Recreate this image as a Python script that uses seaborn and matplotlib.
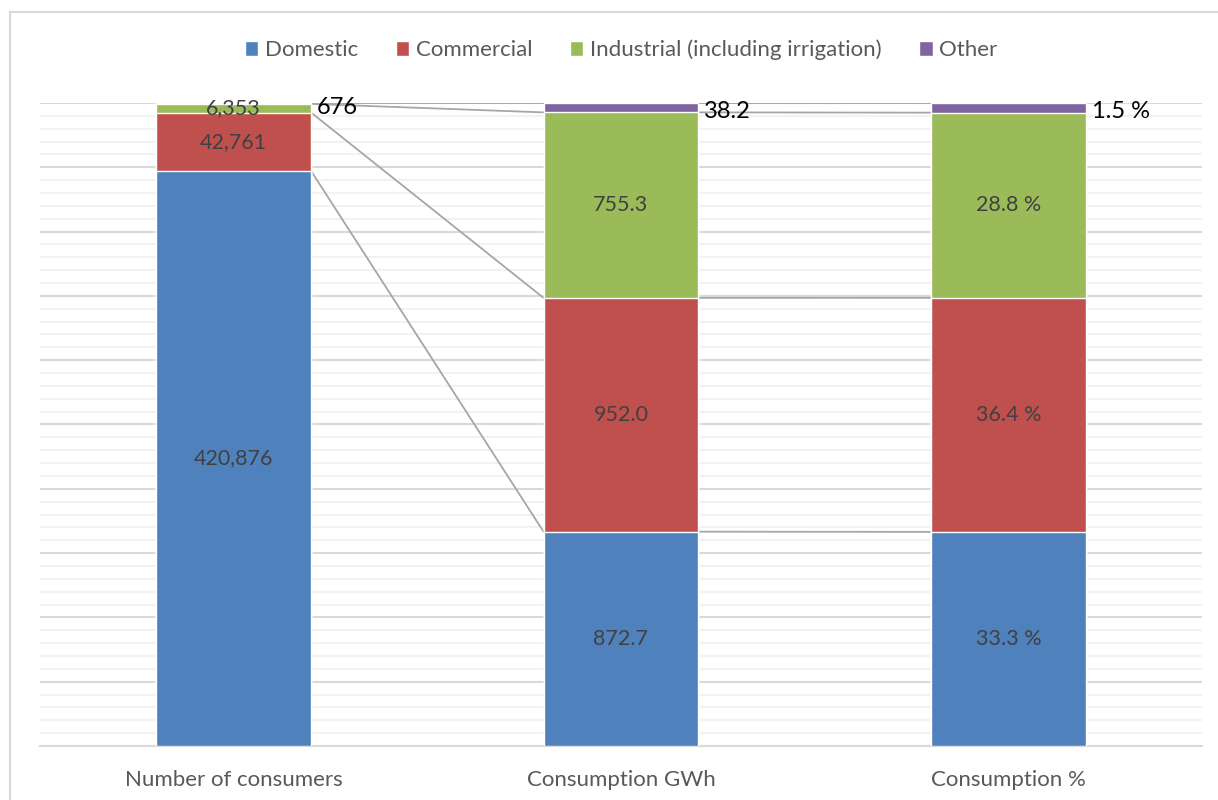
import numpy as np
import pandas as pd
import matplotlib
matplotlib.use("Agg")
import matplotlib.pyplot as plt
from matplotlib.lines import Line2D
from matplotlib.ticker import MultipleLocator
import seaborn as sns

# data
categories = ["Number of consumers", "Consumption GWh", "Consumption %"]
series = ["Domestic", "Commercial", "Industrial (including irrigation)", "Other"]
domestic = [420876, 872.7, 33.3]
commercial = [42761, 952.0, 36.4]
industrial = [6353, 755.3, 28.8]
other = [676, 38.2, 1.5]
label_fmt = ["{:,.0f}", "{:.1f}", "{:.1f} %"]
colors = ["#4F81BD", "#C0504D", "#9BBB59", "#8064A2"]

sns.set_theme(style="white")
plt.rcParams["font.family"] = ["Lato", "DejaVu Sans"]

vals = np.array([domestic, commercial, industrial, other])  # series x category
shares = vals / vals.sum(axis=0)
cum = np.cumsum(shares, axis=0)

fig = plt.figure(figsize=(12.18, 8), dpi=100)
ax = fig.add_axes([40 / 1218, 54 / 800, 1162 / 1218, 643 / 800])

# outer frame of the chart (only left and top edges are visible)
fx, fy = 10 / 1218, 788 / 800
fig.lines.append(Line2D([fx, fx], [0, fy], transform=fig.transFigure, color="#d9d9d9", lw=1.5))
fig.lines.append(Line2D([fx, 1], [fy, fy], transform=fig.transFigure, color="#d9d9d9", lw=1.5))

# stacked bars: draw cumulative heights from the top series down
for i in range(len(series) - 1, -1, -1):
    df = pd.DataFrame({"cat": categories, "h": cum[i]})
    sns.barplot(data=df, x="cat", y="h", color=colors[i], width=0.4,
                saturation=1, ax=ax, zorder=3, label=series[i])

ax.set_ylim(0, 1)
ax.set_xlim(-0.5, 2.5)
ax.yaxis.set_major_locator(MultipleLocator(0.1))
ax.yaxis.set_minor_locator(MultipleLocator(0.02))
ax.grid(axis="y", which="major", color="#d9d9d9", lw=1.5, zorder=0)
ax.grid(axis="y", which="minor", color="#f2f2f2", lw=1.5, zorder=0)
ax.set_yticklabels([])
ax.tick_params(axis="y", which="both", length=0)
ax.tick_params(axis="x", length=0, labelsize=16, labelcolor="#595959", pad=17)
ax.set_xlabel("")
ax.set_ylabel("")
for s in ["top", "right", "left"]:
    ax.spines[s].set_visible(False)
ax.spines["bottom"].set_color("#d9d9d9")
ax.spines["bottom"].set_linewidth(1.5)

# series lines between bars
for i in range(len(series)):
    for j in range(len(categories) - 1):
        ax.plot([j + 0.2, j + 0.8], [cum[i, j], cum[i, j + 1]],
                color="#a6a6a6", lw=1.3, zorder=2)

# data labels
for j in range(len(categories)):
    for i in range(len(series)):
        txt = label_fmt[j].format(vals[i, j])
        mid = cum[i, j] - shares[i, j] / 2
        if i < 3:
            ax.text(j, mid, txt, ha="center", va="center", fontsize=15.5,
                    color="#404040", zorder=5)
        else:
            ax.text(j + 0.215, mid - 0.006, txt, ha="left", va="center",
                    fontsize=17, color="black", zorder=5)

handles, labels = ax.get_legend_handles_labels()
order = [labels.index(s) for s in series]
ax.legend([handles[k] for k in order], series, loc="center",
          bbox_to_anchor=(0.5, (800 - 50 - 54) / 643), bbox_transform=ax.transAxes,
          ncol=4, frameon=False, fontsize=16, labelcolor="#595959",
          handlelength=0.6, handleheight=0.6, handletextpad=0.3, columnspacing=1.7)

fig.savefig("out.png", dpi=100)
